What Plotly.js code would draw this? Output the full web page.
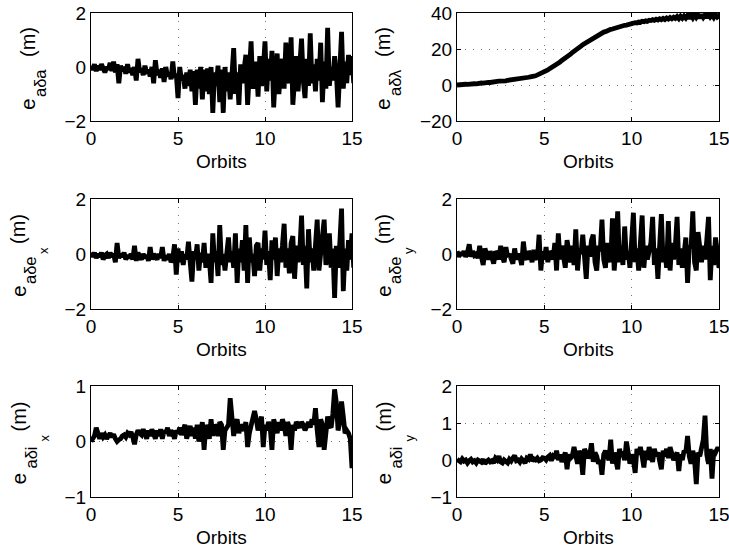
<!DOCTYPE html>
<html>
<head>
<meta charset="utf-8">
<script src="https://cdn.plot.ly/plotly-3.0.1.min.js"></script>
<style>html,body{margin:0;padding:0;background:#fff;}#chart{width:729px;height:558px;}</style>
</head>
<body>
<div id="chart"></div>
<script>
// ---- data (sampled every 0.1 orbit, from 0 to 15) ----
const orbitStart = 0;
const orbitStep = 0.1;
const xTicks = [0, 5, 10, 15];

const eADA = [
  0.05,-0.1,0.1,-0.15,0.05,-0.1,0.1,-0.05,-0.2,0.0,-0.1,
  0.15,-0.15,0.2,-0.2,0.1,-0.6,0.05,-0.15,0.0,-0.25,
  0.1,-0.2,-0.05,-0.3,0.0,-0.5,0.3,-0.2,-0.05,-0.3,
  0.05,-0.25,-0.1,-0.35,0.0,-0.6,0.25,-0.3,-0.1,-0.4,
  -0.05,-0.55,0.0,-0.35,-0.2,-0.45,0.2,-0.4,-0.25,-1.15,
  0.0,-0.5,-0.3,-0.8,-0.2,-0.7,-0.1,-0.9,-0.15,-1.4,
  -0.1,-0.8,0.0,-1.2,-0.1,-0.9,-0.05,-1.0,0.0,-1.7,
  -0.2,-0.7,0.05,-1.3,-0.1,-1.7,0.0,-0.9,-0.2,-1.2,
  -0.3,0.7,-1.0,-0.2,-1.4,0.1,-0.6,-0.2,0.45,-1.4,
  -0.2,0.95,-0.8,-0.3,0.2,-1.1,0.4,-0.7,-0.1,0.95,
  -0.9,0.3,-0.5,0.6,-1.5,-0.2,0.5,-1.0,0.0,0.3,
  -0.8,0.9,-0.3,-0.6,1.1,-1.4,-0.1,0.4,-0.9,0.2,
  1.05,-0.5,-1.15,0.3,-0.7,1.25,-0.6,0.1,-0.9,0.3,
  -0.5,0.9,-1.3,0.2,-0.8,1.45,-0.7,0.0,-0.5,0.4,
  -0.2,-1.5,0.5,1.3,-0.8,0.2,-0.6,0.45,-0.3,0.4,-0.6
];

const eADL = [
  0.0,0.2,0.1,0.3,0.2,0.4,0.3,0.5,0.4,0.6,0.7,
  0.6,0.9,0.8,1.1,1.0,1.3,1.2,1.5,1.4,1.7,
  1.8,1.7,2.0,2.1,2.0,2.3,2.4,2.3,2.6,2.7,
  2.9,2.8,3.1,3.2,3.1,3.4,3.6,3.5,3.9,4.0,
  4.3,4.5,4.4,4.9,5.1,5.5,5.8,6.3,6.8,7.5,
  8.0,8.4,9.1,9.6,10.3,10.8,11.6,12.2,12.8,13.6,
  14.2,15.0,15.7,16.5,17.1,18.0,18.6,19.5,20.1,21.0,
  21.6,22.4,23.0,23.9,24.3,25.1,25.6,26.3,26.8,27.4,
  27.8,28.4,28.8,29.4,29.6,30.2,30.4,30.9,31.1,31.5,
  31.7,32.1,32.2,32.7,32.8,33.2,33.3,33.7,33.6,34.1,
  34.2,34.6,34.4,35.0,34.8,35.4,35.2,35.7,35.4,36.0,
  35.8,36.3,35.9,36.5,36.1,36.8,36.3,37.0,36.4,37.2,
  36.6,37.5,36.8,37.6,37.0,38.0,36.9,38.2,37.1,38.3,
  37.2,38.6,37.0,38.8,37.3,39.0,37.5,38.9,37.2,39.2,
  37.6,39.0,37.4,39.3,37.8,38.9,37.5,39.1,37.8,38.6,38.2
];

const eADEx = [
  0.05,-0.1,0.05,-0.15,0.0,-0.1,0.05,-0.2,-0.05,0.0,-0.15,
  0.05,-0.1,0.0,-0.3,0.4,-0.15,0.0,-0.1,0.05,-0.2,
  -0.05,-0.15,0.0,-0.2,0.3,-0.25,0.05,-0.1,-0.2,0.0,
  -0.15,-0.05,-0.25,0.25,-0.2,0.0,-0.1,-0.2,0.0,-0.15,
  0.25,-0.25,-0.05,-0.2,0.0,-0.3,-0.15,0.35,-0.75,0.2,
  -0.3,0.1,-0.4,0.0,-0.2,0.45,-0.3,-1.0,0.1,-0.2,
  0.35,-0.6,0.05,-0.3,0.4,-0.5,0.0,-0.2,-1.05,0.75,
  -0.3,0.1,-0.8,1.05,-0.4,0.0,-0.6,0.3,0.6,-0.3,
  0.1,-0.5,0.75,-1.05,0.2,-0.3,0.5,-0.6,1.05,-1.05,
  0.6,-0.3,0.0,-0.8,0.3,0.4,-0.6,0.2,-0.2,0.85,
  -0.4,0.1,-0.95,0.5,-0.2,0.6,-0.8,0.2,-0.3,0.3,
  1.1,-0.5,0.2,-0.7,0.4,0.65,-0.9,0.3,-0.3,0.1,
  1.4,-0.4,0.3,-1.25,0.9,-0.3,0.2,-0.6,0.5,1.25,
  -0.6,0.1,0.5,1.25,-0.4,0.0,0.75,-0.5,0.2,-1.6,
  0.3,-0.5,0.4,1.65,-1.35,0.2,-0.6,0.5,-0.2,0.75,-0.5
];

const eADEy = [
  0.1,-0.1,0.05,-0.05,0.1,-0.1,0.05,0.35,-0.1,0.1,-0.05,
  0.0,-0.15,0.3,-0.1,-0.4,0.2,0.0,-0.2,0.1,-0.15,
  -0.35,0.1,0.0,-0.2,0.3,-0.1,-0.3,0.25,-0.1,0.0,
  -0.15,-0.35,0.2,-0.2,0.0,-0.1,-0.4,0.45,-0.1,-0.2,
  0.1,0.0,-0.3,0.15,-0.1,-0.2,0.7,-0.6,0.1,-0.2,
  0.25,-0.3,0.1,0.0,-0.2,0.4,-0.6,0.75,-0.2,0.3,
  -0.1,-0.5,0.5,0.1,-0.3,0.3,-0.4,0.9,-0.6,0.2,
  0.0,0.7,-0.4,-0.9,0.3,-0.1,0.5,0.7,-0.3,-0.6,
  0.3,0.1,1.25,-0.2,-0.5,0.4,0.1,-0.3,1.3,-0.6,
  0.2,1.55,-0.3,0.3,-0.4,1.0,-0.2,0.1,-0.5,0.4,
  1.5,-0.3,0.2,-0.6,0.2,1.4,-0.5,0.3,-0.2,0.1,
  0.4,1.35,-0.4,0.2,-0.9,0.3,1.45,-0.3,0.1,-0.5,
  1.2,-0.6,0.4,-0.2,0.3,1.35,-0.4,0.2,-0.5,0.0,
  0.6,-1.05,0.3,0.2,1.55,-0.3,-0.6,0.8,0.2,-0.3,
  0.3,-0.2,0.5,1.35,-0.95,0.3,-0.4,0.6,0.1,-0.5,-0.3
];

const eADIx = [
  0.0,0.05,0.1,0.25,0.1,0.05,0.15,0.08,0.12,0.05,0.1,
  0.15,0.08,0.13,0.05,0.0,0.03,0.05,0.1,0.12,0.08,
  0.15,0.12,0.17,0.08,-0.05,0.12,0.2,0.15,0.12,0.22,
  0.1,0.05,0.2,0.1,0.22,0.15,0.05,0.2,0.1,0.22,
  0.05,0.2,0.15,0.25,0.1,0.2,0.15,0.05,0.2,0.15,
  0.25,0.12,0.22,0.3,0.05,0.2,0.28,0.1,0.25,0.05,
  0.3,0.0,0.15,0.35,-0.15,0.3,0.2,0.05,0.4,0.1,
  0.3,0.25,0.1,0.35,0.3,-0.15,0.2,0.25,0.3,0.78,
  0.35,0.1,0.3,0.4,0.15,0.3,0.25,0.2,0.35,-0.1,
  0.15,0.3,0.45,0.55,0.4,0.2,0.3,0.45,-0.1,0.3,
  0.2,0.35,0.25,-0.15,0.4,0.3,0.15,0.35,0.2,0.4,
  0.3,0.1,0.35,0.25,-0.15,0.3,0.2,0.35,0.3,0.25,
  0.35,0.3,0.2,0.3,0.35,0.25,0.4,0.3,0.6,0.2,
  -0.1,0.4,0.3,-0.15,0.2,0.45,0.3,0.25,0.5,0.94,
  0.7,0.2,0.35,0.72,0.45,0.15,0.2,0.15,0.05,-0.48
];

const eADIy = [
  0.02,0.0,-0.05,0.03,-0.03,0.0,-0.08,-0.02,0.02,-0.05,-0.02,
  -0.08,0.0,-0.03,-0.06,0.02,-0.1,-0.04,0.0,-0.05,-0.02,
  -0.08,0.05,0.0,0.1,-0.05,-0.08,0.0,-0.03,-0.08,0.02,
  -0.03,0.05,0.12,-0.02,0.0,-0.06,0.03,-0.02,-0.08,0.05,
  0.02,0.15,-0.02,0.03,0.0,0.05,-0.02,0.0,0.06,0.05,
  0.0,0.08,0.12,-0.02,0.1,0.05,0.25,0.0,0.15,-0.05,
  0.1,0.2,-0.25,0.15,0.05,0.1,0.35,0.05,-0.1,0.25,
  0.1,-0.4,0.3,0.2,0.05,0.15,0.45,-0.05,0.2,0.1,
  -0.1,0.0,-0.4,0.15,0.25,0.1,0.0,0.55,-0.1,0.2,
  0.0,-0.25,0.3,0.1,0.15,0.0,0.5,0.2,-0.1,0.15,
  0.0,-0.35,0.3,0.15,0.35,0.1,-0.2,0.25,0.0,0.35,
  0.15,-0.05,0.3,0.1,0.2,0.0,-0.25,0.25,0.1,0.3,
  0.05,0.35,0.15,0.0,0.1,0.2,-0.3,0.15,0.0,0.25,
  0.2,0.65,0.1,-0.1,0.25,0.0,-0.65,0.2,0.1,0.3,
  0.55,1.2,0.15,-0.1,0.3,-0.5,0.25,0.2,0.3,0.3
];

const seriesList = [eADA, eADL, eADEx, eADEy, eADIx, eADIy];
const yMain = 'e';
const ySubs = ['aδa', 'aδλ', 'aδe', 'aδe', 'aδi', 'aδi'];
const ySubSubs = ['', '', 'x', 'y', 'x', 'y'];
const yUnit = '(m)';
const yRanges = [[-2, 2], [-20, 40], [-2, 2], [-2, 2], [-1, 1], [-1, 2]];
const yDticks = [2, 20, 2, 2, 1, 1];
const xTitle = 'Orbits';

// ---- layout (pixels -> paper) ----
const W = 729, H = 558;
const colPx = [[91, 352], [457, 719]];
const rowPx = [[13, 121], [199, 309], [386, 497]];
const labelColPx = [28, 383, 18, 383, 18, 383];  // centre of the main y-label text column
const FONT = 'Liberation Sans, Arial, Helvetica, sans-serif';
const TICKSIZE = 19;

const data = [];
const layout = {
  width: W, height: H,
  margin: {l: 0, r: 0, t: 0, b: 0},
  paper_bgcolor: '#fff', plot_bgcolor: '#fff',
  showlegend: false,
  font: {family: FONT, size: TICKSIZE, color: '#000'},
  annotations: []
};

function rotText(text, xPx, yPx, size) {
  return {
    xref: 'paper', yref: 'paper', x: xPx / W, y: 1 - yPx / H,
    xanchor: 'center', yanchor: 'middle', textangle: -90,
    text: text, showarrow: false,
    font: {family: FONT, size: size, color: '#000'}
  };
}

seriesList.forEach((ys, k) => {
  const col = k % 2, row = Math.floor(k / 2);
  const sfx = k === 0 ? '' : String(k + 1);
  data.push({
    type: 'scatter', mode: 'lines',
    x0: orbitStart, dx: orbitStep, y: ys,
    xaxis: 'x' + sfx, yaxis: 'y' + sfx,
    line: {color: '#000', width: 4.8},
    hoverinfo: 'skip'
  });
  const xd = [colPx[col][0] / W, colPx[col][1] / W];
  const yd = [1 - rowPx[row][1] / H, 1 - rowPx[row][0] / H];
  const common = {
    showline: true, linecolor: '#000', linewidth: 1, mirror: 'ticks',
    ticks: 'inside', ticklen: 4, tickcolor: '#000', tickwidth: 1,
    showgrid: true, gridcolor: '#7a7a7a', gridwidth: 1, griddash: '1px,7px',
    zeroline: false, ticklabeloverflow: 'allow',
    tickfont: {family: FONT, size: TICKSIZE, color: '#000'}
  };
  layout['xaxis' + sfx] = Object.assign({}, common, {
    domain: xd, anchor: 'y' + sfx, range: [0, 15], tickvals: xTicks
  });
  layout['yaxis' + sfx] = Object.assign({}, common, {
    domain: yd, anchor: 'x' + sfx, range: yRanges[k], dtick: yDticks[k], tick0: 0
  });
  layout.annotations.push({
    xref: 'paper', yref: 'paper',
    x: (colPx[col][0] + colPx[col][1]) / 2 / W,
    y: 1 - (rowPx[row][1] + 40) / H,
    xanchor: 'center', yanchor: 'middle',
    text: xTitle, showarrow: false,
    font: {family: FONT, size: TICKSIZE, color: '#000'}
  });
  // y label built from its parts: e, subscript, sub-subscript, unit
  const cx = labelColPx[k];
  const cy = (rowPx[row][0] + rowPx[row][1]) / 2;
  layout.annotations.push(rotText(yMain, cx, cy + 37, 21));
  layout.annotations.push(rotText(ySubs[k], cx + 12, cy + 16, 16.5));
  if (ySubSubs[k]) layout.annotations.push(rotText(ySubSubs[k], cx + 26, cy - 3, 13));
  layout.annotations.push(rotText(yUnit, cx, cy - 25, 20));
});

Plotly.newPlot('chart', data, layout, {displayModeBar: false, staticPlot: true});
</script>
</body>
</html>
